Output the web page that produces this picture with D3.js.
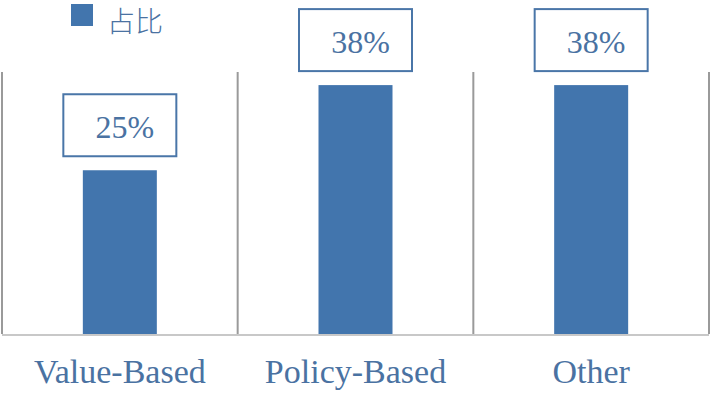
<!DOCTYPE html>
<html>
<head>
<meta charset="utf-8">
<script src="https://cdn.jsdelivr.net/npm/d3@7"></script>
<style>
  body { margin: 0; background: #fff; }
  svg { display: block; }
</style>
</head>
<body>
<div id="chart"></div>
<script>
// data
var categories = ["Value-Based", "Policy-Based", "Other"];
var values = [25, 38, 38];
var labels = ["25%", "38%", "38%"];
var seriesName = "占比";

var w = 711, h = 394;
var barColor = "#4275ad", textColor = "#4a72a2";

var svg = d3.select("#chart").append("svg")
    .attr("width", w)
    .attr("height", h);

var x = d3.scaleBand().domain(categories).range([2, 709]).padding(0);
var y = d3.scaleLinear().domain([0, 40]).range([334, 72]);

var barW = x.bandwidth() * 0.314;

// separators between categories
var edges = categories.map(function(d) { return x(d); }).concat([x.range()[1]]);
svg.selectAll(".sep").data(edges).enter().append("line")
    .attr("class", "sep")
    .attr("x1", function(d) { return d; })
    .attr("x2", function(d) { return d; })
    .attr("y1", y(40))
    .attr("y2", y(0))
    .style("stroke", "#9a9a9a")
    .style("stroke-width", 2);

// bars
svg.selectAll(".bar").data(values).enter().append("rect")
    .attr("class", "bar")
    .attr("x", function(d, i) { return x(categories[i]) + (x.bandwidth() - barW) / 2; })
    .attr("width", barW)
    .attr("y", function(d) { return y(d); })
    .attr("height", function(d) { return y(0) - y(d); })
    .style("fill", barColor);

// axis line
svg.append("line")
    .attr("x1", x.range()[0]).attr("x2", x.range()[1])
    .attr("y1", y(0) + 1).attr("y2", y(0) + 1)
    .style("stroke", "#c8c8c8")
    .style("stroke-width", 2);

// data label boxes
var boxW = 113, boxH = 62, gap = 14;
var lab = svg.selectAll(".lab").data(values).enter().append("g")
    .attr("class", "lab")
    .attr("transform", function(d, i) {
        var cx = x(categories[i]) + x.bandwidth() / 2;
        return "translate(" + (cx - boxW / 2) + "," + (y(d) - gap - boxH) + ")";
    });
lab.append("rect")
    .attr("width", boxW).attr("height", boxH)
    .style("fill", "#fff")
    .style("stroke", "#4a76a8")
    .style("stroke-width", 2);
lab.append("text")
    .attr("x", boxW / 2 + 5)
    .attr("y", boxH - 18)
    .attr("text-anchor", "middle")
    .style("font-family", "'Liberation Serif', 'Times New Roman', serif")
    .style("font-size", "32px")
    .style("fill", textColor)
    .text(function(d, i) { return labels[i]; });

// category labels
svg.selectAll(".cat").data(categories).enter().append("text")
    .attr("class", "cat")
    .attr("x", function(d) { return x(d) + x.bandwidth() / 2; })
    .attr("y", 383)
    .attr("text-anchor", "middle")
    .style("font-family", "'Liberation Serif', 'Times New Roman', serif")
    .style("font-size", "34px")
    .style("fill", textColor)
    .text(function(d) { return d; });

// legend
svg.append("rect")
    .attr("x", 71).attr("y", 4)
    .attr("width", 22).attr("height", 22)
    .style("fill", barColor);
svg.append("text")
    .attr("x", 107).attr("y", 32)
    .style("font-family", "'Noto Sans CJK SC', sans-serif")
    .style("font-weight", 300)
    .style("font-size", "28px")
    .style("fill", textColor)
    .text(seriesName);
</script>
</body>
</html>
